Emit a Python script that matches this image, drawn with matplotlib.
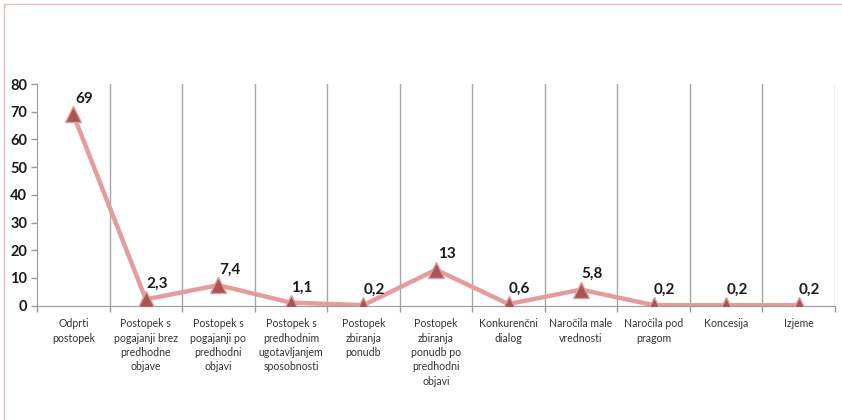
import matplotlib
matplotlib.use("Agg")
import matplotlib.pyplot as plt
from matplotlib.lines import Line2D

plt.rcParams['font.family'] = ['Lato', 'DejaVu Sans']

categories = [
    "Odprti\npostopek",
    "Postopek s\npogajanji brez\npredhodne\nobjave",
    "Postopek s\npogajanji po\npredhodni\nobjavi",
    "Postopek s\npredhodnim\nugotavljanjem\nsposobnosti",
    "Postopek\nzbiranja\nponudb",
    "Postopek\nzbiranja\nponudb po\npredhodni\nobjavi",
    "Konkurenčni\ndialog",
    "Naročila male\nvrednosti",
    "Naročila pod\npragom",
    "Koncesija",
    "Izjeme",
]
values = [69, 2.3, 7.4, 1.1, 0.2, 13, 0.6, 5.8, 0.2, 0.2, 0.2]
value_labels = ["69", "2,3", "7,4", "1,1", "0,2", "13", "0,6", "5,8", "0,2", "0,2", "0,2"]
y_ticks = [0, 10, 20, 30, 40, 50, 60, 70, 80]

fig = plt.figure(figsize=(8.42, 4.2), dpi=100)
ax = fig.add_axes([37 / 842, 1 - 305.7 / 420, (835 - 37) / 842, (305.7 - 84) / 420])

x = list(range(len(categories)))
ax.plot(x, values, color="#E59C9C", lw=3.2, zorder=3, solid_joinstyle="miter")
ax.plot(x, values, ls="none", marker="^", ms=11, mfc="#A65656",
        mec="#E59C9C", mew=1.0, zorder=4)

for xi, v, lab in zip(x, values, value_labels):
    ax.annotate(lab, (xi, v), xytext=(8, 6), textcoords="offset points",
                ha="center", va="bottom", fontsize=11, fontweight="bold",
                color="#1a1a1a")

ax.set_xlim(-0.5, len(categories) - 0.5)
ax.set_ylim(0, 80)
ax.set_yticks(y_ticks)
ax.set_yticklabels([str(t) for t in y_ticks], fontsize=10.5, fontweight="bold",
                   color="#1a1a1a")

# category boundaries: ticks and vertical gridlines
bounds = [i - 0.5 for i in range(len(categories) + 1)]
ax.set_xticks(bounds)
ax.set_xticklabels([""] * len(bounds))
ax.set_xticks(x, minor=True)
ax.set_xticklabels(categories, minor=True, fontsize=7.6, color="#333333",
                   linespacing=1.38, va="top")
ax.tick_params(axis="x", which="minor", length=0, pad=9)
ax.tick_params(axis="x", which="major", length=4, color="#999999", width=1)
ax.tick_params(axis="y", length=4, color="#999999", width=1, pad=3)

for b in bounds[1:]:
    ax.axvline(b, color="#A6A6A6", lw=1, zorder=1)

for s in ["top", "right"]:
    ax.spines[s].set_visible(False)
ax.spines["left"].set_color("#999999")
ax.spines["bottom"].set_color("#999999")

# outer chart border (left and top visible)
fig.add_artist(Line2D([4 / 842, 4 / 842], [0, 1 - 4 / 420], color="#EAB8B8", lw=1))
fig.add_artist(Line2D([4 / 842, 1], [1 - 4 / 420, 1 - 4 / 420], color="#EAB8B8", lw=1))

fig.savefig("out.png", dpi=100)
